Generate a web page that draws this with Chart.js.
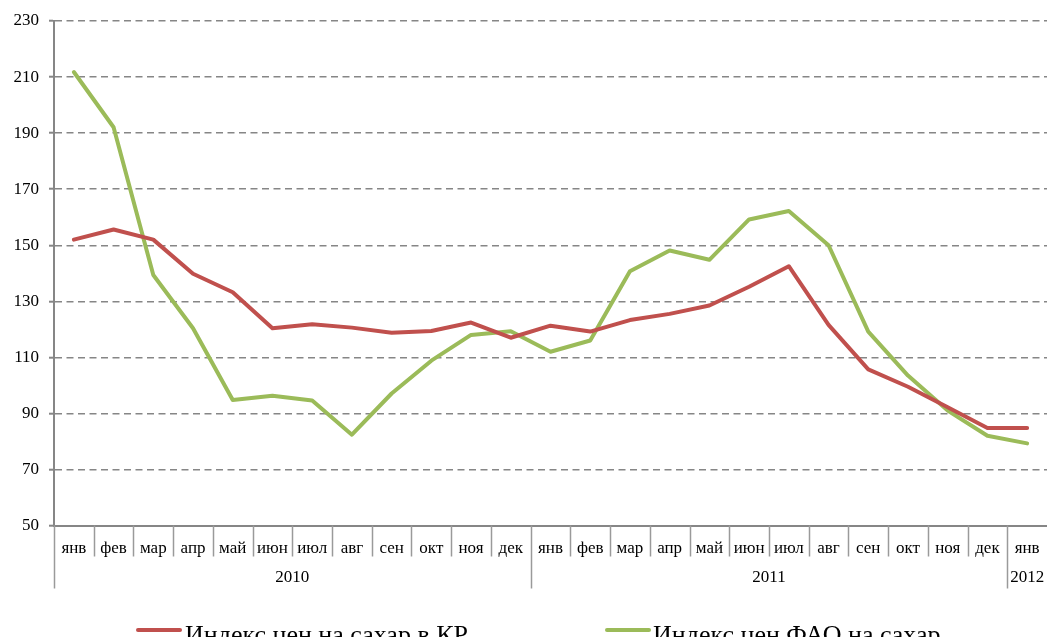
<!DOCTYPE html>
<html>
<head>
<meta charset="utf-8">
<script src="https://cdn.jsdelivr.net/npm/chart.js@4.4.1/dist/chart.umd.min.js"></script>
<style>
  html, body { margin:0; padding:0; background:#fff; overflow:hidden; }
  #wrap { position:relative; width:1047px; height:637px; overflow:hidden; }
  canvas { position:absolute; left:0; top:0; }
  .leg { position:absolute; font-family:"Liberation Serif","Times New Roman",serif; font-size:26px; line-height:26px; color:#000; white-space:nowrap; }
  .legline { position:absolute; height:4px; border-radius:2px; }
</style>
</head>
<body>
<div id="wrap">
  <canvas id="c" width="1047" height="637"></canvas>
  <div id="legend"></div>
</div>
<script>
// ---- data ----
const months = ['янв','фев','мар','апр','май','июн','июл','авг','сен','окт','ноя','дек',
                'янв','фев','мар','апр','май','июн','июл','авг','сен','окт','ноя','дек',
                'янв'];
const yearLabels = ['2010','2011','2012'];
const yearSpans = [12, 12, 1];
const seriesNames = ['Индекс цен на сахар в КР', 'Индекс цен ФАО на сахар'];
const krIndex  = [152.0,155.6,152.0,139.8,133.2,120.4,121.8,120.6,118.8,119.4,122.4,117.0,
                  121.3,119.2,123.3,125.5,128.5,135.2,142.5,121.6,105.7,99.5,92.2,84.8,84.8];
const faoIndex = [211.8,192.1,139.4,120.4,94.8,96.3,94.6,82.4,97.1,108.8,118.0,119.3,
                  112.0,116.0,140.7,148.1,144.8,159.2,162.2,150.0,119.2,103.5,91.0,82.0,79.3];
const yTicks = {min:50, max:230, step:20};

const colors = ['#C0504D', '#9BBB59'];
const FONT = '"Liberation Serif","Times New Roman",serif';

const yearAxisPlugin = {
  id: 'yearAxis',
  afterDraw(chart) {
    const xs = chart.scales.x;
    const ctx = chart.ctx;
    const n = months.length;
    const centers = months.map((_, i) => xs.getPixelForValue(i));
    const w = centers[1] - centers[0];
    const bounds = [];
    for (let i = 0; i <= n; i++) bounds.push(i < n ? centers[i] - w / 2 : centers[n - 1] + w / 2);
    const starts = [0];
    yearSpans.forEach(s => starts.push(starts[starts.length - 1] + s));
    const top = xs.top;
    ctx.save();
    ctx.strokeStyle = '#9a9a9a';
    ctx.lineWidth = 1.5;
    for (let i = 0; i < n; i++) {
      const isYear = starts.includes(i);
      const bx = Math.round(bounds[i]) + 0.5;
      ctx.beginPath();
      ctx.moveTo(bx, top);
      ctx.lineTo(bx, top + (isYear ? 63 : 31));
      ctx.stroke();
    }
    ctx.fillStyle = '#000';
    ctx.font = '17px ' + FONT;
    ctx.textAlign = 'center';
    ctx.textBaseline = 'middle';
    yearLabels.forEach((lab, k) => {
      const a = bounds[starts[k]], b = bounds[starts[k + 1]];
      ctx.fillText(lab, (a + b) / 2, top + 52);
    });
    ctx.restore();
  }
};

new Chart(document.getElementById('c'), {
  type: 'line',
  data: {
    labels: months,
    datasets: [
      { label: seriesNames[0], data: krIndex, borderColor: colors[0], backgroundColor: colors[0],
        borderWidth: 4, pointRadius: 0, tension: 0, borderCapStyle: 'round', borderJoinStyle: 'round' },
      { label: seriesNames[1], data: faoIndex, borderColor: colors[1], backgroundColor: colors[1],
        borderWidth: 4, pointRadius: 0, tension: 0, borderCapStyle: 'round', borderJoinStyle: 'round' }
    ]
  },
  options: {
    responsive: false,
    animation: false,
    devicePixelRatio: 1,
    layout: { padding: { top: 21, right: 0, bottom: 48.5, left: 0 } },
    plugins: { legend: { display: false }, tooltip: { enabled: false } },
    scales: {
      x: {
        type: 'category',
        offset: true,
        grid: { display: true, drawOnChartArea: false, drawTicks: true, tickLength: 13,
                tickColor: 'rgba(0,0,0,0)', color: 'rgba(0,0,0,0)', offset: true },
        border: { display: true, color: '#868686', width: 2 },
        ticks: { autoSkip: false, maxRotation: 0, minRotation: 0, padding: 0,
                 color: '#000', font: { family: FONT, size: 17 } },
        afterFit(scale) { scale.height = 63; }
      },
      y: {
        min: yTicks.min, max: yTicks.max,
        grid: { color: '#868686', lineWidth: 1.4, drawTicks: true, tickLength: 5, tickColor: '#868686', tickWidth: 2 },
        border: { display: true, color: '#868686', width: 2, dash: [7, 4.5] },
        ticks: { stepSize: yTicks.step, padding: 10, color: '#000', font: { family: FONT, size: 17 } },
        afterFit(scale) { scale.width = 54; }
      }
    }
  },
  plugins: [yearAxisPlugin]
});

// legend (HTML text)
const legendPos = [{line:136, text:185}, {line:605, text:653}];
const legEl = document.getElementById('legend');
seriesNames.forEach((name, i) => {
  const ln = document.createElement('div');
  ln.className = 'legline';
  ln.style.left = legendPos[i].line + 'px';
  ln.style.width = '46px';
  ln.style.top = '628px';
  ln.style.background = colors[i];
  legEl.appendChild(ln);
  const t = document.createElement('div');
  t.className = 'leg';
  t.style.left = legendPos[i].text + 'px';
  t.style.top = '622px';
  t.textContent = name;
  legEl.appendChild(t);
});
</script>
</body>
</html>
